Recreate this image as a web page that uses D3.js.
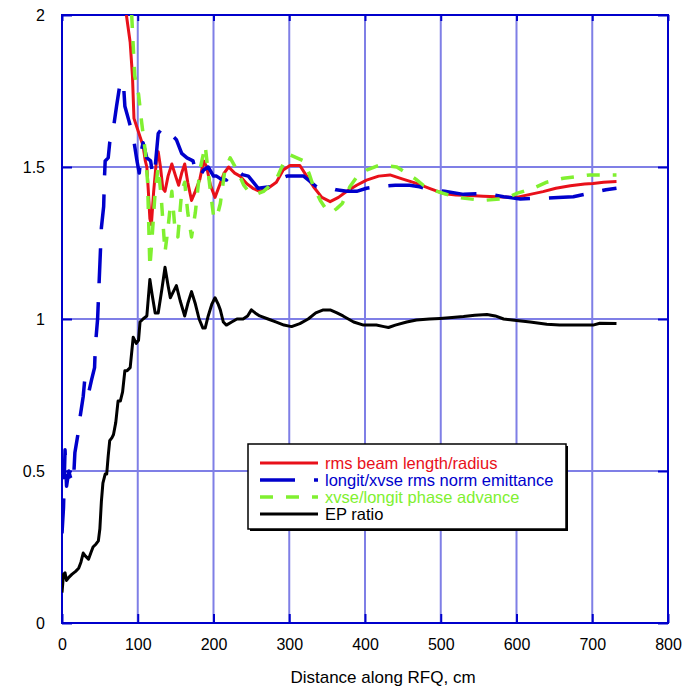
<!DOCTYPE html>
<html>
<head>
<meta charset="utf-8">
<script src="https://cdn.jsdelivr.net/npm/d3@7"></script>
<style>
  body { margin: 0; background: #fff; }
  text { font-family: "Liberation Sans", Arial, sans-serif; }
</style>
</head>
<body>
<div id="chart"></div>
<script>
const WIDTH = 683;
const HEIGHT = 690;
const MARGIN = { TOP: 15, BOTTOM: 67, LEFT: 62, RIGHT: 15 };

const width = WIDTH - MARGIN.LEFT - MARGIN.RIGHT;
const height = HEIGHT - MARGIN.TOP - MARGIN.BOTTOM;

// tick labels
const xTicks = [0, 100, 200, 300, 400, 500, 600, 700, 800];
const yTicks = [0, 0.5, 1, 1.5, 2];

// series names + colours
const seriesNames = ['rms beam length/radius', 'longit/xvse rms norm emittance',
                     'xvse/longit phase advance', 'EP ratio'];
const seriesColours = ['#e8101a', '#0000cc', '#80f030', '#000000'];

// [distance cm, value]
const beamRatio = [[85,2.0],[90,1.91],[93,1.80],[95,1.66],[99,1.63],[103,1.60],[107,1.57],[110,1.52],
  [112,1.50],[114,1.42],[116,1.33],[118,1.31],[121,1.42],[125,1.53],[127,1.55],[130,1.50],[133,1.43],
  [136,1.42],[140,1.47],[145,1.51],[150,1.47],[154,1.44],[158,1.48],[162,1.51],[166,1.45],[171,1.39],
  [176,1.42],[182,1.46],[187,1.52],[191,1.50],[196,1.44],[202,1.40],[208,1.44],[214,1.48],[220,1.50],
  [228,1.48],[235,1.47],[244,1.445],[252,1.43],[261,1.42],[272,1.43],[283,1.45],[292,1.49],[301,1.505],
  [314,1.505],[323,1.47],[332,1.435],[343,1.40],[354,1.386],[365,1.40],[376,1.42],[389,1.44],[402,1.457],
  [418,1.47],[433,1.474],[450,1.46],[468,1.446],[485,1.43],[503,1.413],[520,1.408],[539,1.406],
  [556,1.404],[574,1.402],[600,1.40],[618,1.41],[635,1.419],[652,1.43],[671,1.438],[690,1.444],
  [701,1.446],[715,1.45],[732,1.452]];

const emittRatio = [[0,0.295],[2,0.38],[4,0.57],[6,0.45],[9,0.50],[11,0.48],[15,0.46],[17,0.56],
  [22,0.635],[24,0.68],[28,0.745],[30,0.80],[35,0.755],[39,0.80],[43,0.84],[44,0.91],[47,1.00],
  [50,1.18],[52,1.30],[55,1.37],[56,1.46],[57,1.52],[61,1.53],[63,1.58],[68,1.63],[72,1.70],[77,1.78],
  [81,1.78],[83,1.70],[88,1.655],[94,1.60],[99,1.52],[102,1.48],[105,1.555],[107,1.58],[112,1.53],
  [117,1.52],[120,1.47],[123,1.50],[127,1.61],[133,1.63],[140,1.62],[147,1.60],[151,1.59],[158,1.545],
  [165,1.53],[173,1.52],[178,1.47],[182,1.47],[187,1.49],[193,1.50],[200,1.47],[204,1.47],[210,1.46],
  [217,1.457],[226,1.485],[231,1.49],[238,1.475],[246,1.47],[259,1.43],[275,1.435],[287,1.46],
  [297,1.47],[310,1.47],[319,1.47],[336,1.435],[349,1.435],[362,1.425],[376,1.42],[389,1.42],
  [402,1.43],[415,1.435],[440,1.44],[459,1.44],[472,1.435],[486,1.425],[505,1.42],[530,1.41],
  [561,1.413],[583,1.402],[605,1.395],[620,1.397],[635,1.397],[655,1.40],[675,1.402],[690,1.41],
  [701,1.416],[718,1.425],[732,1.43]];

const phaseRatio = [[92,2.0],[96,1.80],[101,1.74],[105,1.65],[110,1.55],[113,1.45],[116,1.17],
  [119,1.27],[123,1.42],[127,1.50],[131,1.40],[136,1.22],[140,1.30],[145,1.42],[149,1.30],[153,1.27],
  [158,1.42],[162,1.45],[166,1.35],[171,1.27],[176,1.35],[182,1.49],[189,1.57],[195,1.44],[200,1.34],
  [204,1.33],[209,1.38],[215,1.49],[222,1.53],[231,1.49],[240,1.44],[246,1.42],[256,1.41],[266,1.42],
  [275,1.44],[283,1.46],[292,1.51],[301,1.54],[310,1.53],[319,1.52],[326,1.48],[332,1.435],[341,1.39],
  [349,1.36],[356,1.35],[363,1.364],[370,1.38],[380,1.435],[390,1.47],[402,1.49],[420,1.507],
  [442,1.50],[455,1.48],[467,1.46],[477,1.44],[495,1.42],[521,1.40],[556,1.39],[587,1.397],
  [600,1.413],[622,1.43],[640,1.45],[662,1.463],[697,1.474],[732,1.474]];

const epRatio = [[0,0.10],[2,0.16],[4,0.165],[6,0.14],[9,0.15],[13,0.16],[18,0.17],[22,0.18],[25,0.20],
  [28,0.23],[31,0.22],[35,0.21],[38,0.23],[41,0.25],[45,0.26],[48,0.27],[50,0.31],[52,0.40],[54,0.46],
  [57,0.49],[59,0.49],[61,0.55],[63,0.60],[66,0.61],[68,0.62],[71,0.66],[74,0.73],[77,0.73],[80,0.76],
  [83,0.83],[86,0.83],[90,0.84],[94,0.94],[98,0.92],[101,0.93],[103,0.99],[107,1.0],[112,1.01],
  [116,1.13],[119,1.08],[123,1.02],[127,1.02],[132,1.10],[136,1.17],[140,1.11],[143,1.07],[147,1.09],
  [151,1.11],[156,1.06],[162,1.01],[166,1.05],[171,1.09],[176,1.05],[181,1.00],[186,0.97],[189,0.97],
  [193,1.01],[198,1.05],[202,1.07],[206,1.05],[209,1.03],[213,0.99],[217,0.98],[224,0.99],[231,1.0],
  [239,1.0],[245,1.01],[250,1.03],[255,1.02],[261,1.01],[272,1.0],[283,0.99],[293,0.98],[303,0.975],
  [314,0.985],[325,1.0],[335,1.02],[345,1.03],[354,1.03],[363,1.02],[371,1.01],[385,0.99],[398,0.98],
  [415,0.98],[425,0.975],[431,0.972],[440,0.98],[455,0.99],[468,0.997],[485,1.0],[499,1.002],
  [515,1.005],[530,1.008],[545,1.012],[561,1.015],[572,1.01],[583,1.0],[600,0.995],[618,0.99],
  [640,0.983],[657,0.98],[680,0.98],[701,0.98],[710,0.986],[732,0.985]];

const allSeries = [beamRatio, emittRatio, phaseRatio, epRatio];
const dashes = [null, '35,19', '13,13', null];
const widths = [3, 3.5, 3.5, 3];

const svg = d3.select('#chart')
  .append('svg')
    .attr('width', WIDTH)
    .attr('height', HEIGHT);

const g = svg.append('g')
    .attr('transform', `translate(${MARGIN.LEFT}, ${MARGIN.TOP})`);

const x = d3.scaleLinear().domain([0, 800]).range([0, width]);
const y = d3.scaleLinear().domain([0, 2]).range([height, 0]);

g.append('clipPath').attr('id', 'plotclip')
  .append('rect').attr('width', width).attr('height', height);

// grid
g.append('g')
  .selectAll('line')
  .data(xTicks.slice(1, -1))
  .enter().append('line')
    .attr('x1', d => x(d)).attr('x2', d => x(d))
    .attr('y1', 0).attr('y2', height)
    .attr('stroke', '#7f7fe6').attr('stroke-width', 2);

g.append('g')
  .selectAll('line')
  .data(yTicks.slice(1, -1))
  .enter().append('line')
    .attr('y1', d => y(d)).attr('y2', d => y(d))
    .attr('x1', 0).attr('x2', width)
    .attr('stroke', '#7f7fe6').attr('stroke-width', 2);

// axes (ticks point inward, mirrored)
const axisStyle = sel => {
  sel.select('.domain').remove();
  sel.selectAll('.tick line').attr('stroke', '#0000cc').attr('stroke-width', 2);
  sel.selectAll('.tick text').attr('fill', '#000').style('font-size', '16px')
     .style('font-family', '"Liberation Sans", Arial, sans-serif');
};

g.append('g')
  .attr('transform', `translate(0, ${height})`)
  .call(d3.axisBottom(x).tickValues(xTicks).tickSize(-9).tickPadding(16).tickFormat(d3.format('d')))
  .call(axisStyle);
g.append('g')
  .call(d3.axisTop(x).tickValues(xTicks).tickSize(-6).tickFormat(''))
  .call(axisStyle);
g.append('g')
  .call(d3.axisLeft(y).tickValues(yTicks).tickSize(-10).tickPadding(17).tickFormat(d => d))
  .call(axisStyle);
g.append('g')
  .attr('transform', `translate(${width}, 0)`)
  .call(d3.axisRight(y).tickValues(yTicks).tickSize(-10).tickFormat(''))
  .call(axisStyle);

g.append('rect')
  .attr('width', width).attr('height', height)
  .attr('fill', 'none').attr('stroke', '#0000cc').attr('stroke-width', 2);

// lines
const line = d3.line().x(d => x(d[0])).y(d => y(d[1]));

g.append('g')
  .attr('clip-path', 'url(#plotclip)')
  .selectAll('path')
  .data(allSeries)
  .enter().append('path')
    .attr('d', line)
    .attr('fill', 'none')
    .attr('stroke', (d, i) => seriesColours[i])
    .attr('stroke-width', (d, i) => widths[i])
    .attr('stroke-dasharray', (d, i) => dashes[i])
    .attr('stroke-linejoin', 'round');

// x label
svg.append('text')
  .attr('x', 383).attr('y', 683)
  .attr('text-anchor', 'middle')
  .style('font-size', '17px')
  .text('Distance along RFQ, cm');

// legend
const legend = svg.append('g').attr('transform', 'translate(248, 444)');
legend.append('rect')
  .attr('x', 2).attr('y', 2).attr('width', 318).attr('height', 85)
  .attr('fill', '#000');
legend.append('rect')
  .attr('width', 318).attr('height', 85)
  .attr('fill', '#fff').attr('stroke', '#000').attr('stroke-width', 1.5);

const items = legend.selectAll('g.item')
  .data(seriesNames)
  .enter().append('g')
    .attr('class', 'item')
    .attr('transform', (d, i) => `translate(0, ${19 + i * 17})`);

items.append('line')
  .attr('x1', 12).attr('x2', 70)
  .attr('stroke', (d, i) => seriesColours[i])
  .attr('stroke-width', (d, i) => widths[i])
  .attr('stroke-dasharray', (d, i) => dashes[i]);

items.append('text')
  .attr('x', 77).attr('y', 5.5)
  .style('font-size', '16.5px')
  .attr('fill', (d, i) => seriesColours[i])
  .text(d => d);
</script>
</body>
</html>
